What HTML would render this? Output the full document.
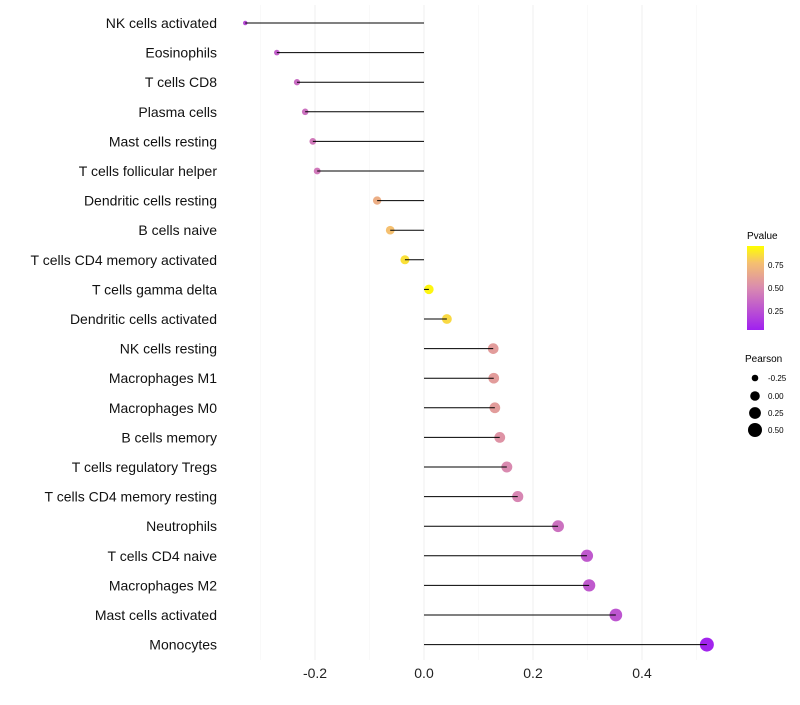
<!DOCTYPE html>
<html><head><meta charset="utf-8"><style>
body{margin:0;background:#fff;font-family:"Liberation Sans",sans-serif}
svg text{font-family:"Liberation Sans",sans-serif}
</style></head><body>
<svg id="c" width="800" height="700" xmlns="http://www.w3.org/2000/svg">
<defs><linearGradient id="pg" x1="0" y1="1" x2="0" y2="0">
<stop offset="0" stop-color="#a020f0"/><stop offset="0.5" stop-color="#d98ab0"/><stop offset="0.8" stop-color="#f5c070"/><stop offset="1" stop-color="#ffff00"/></linearGradient></defs>
<g id="grid"></g><g id="marks"></g><g id="labels"></g>
<g>
<text x="747" y="239" font-size="10">Pvalue</text>
<rect x="747" y="246" width="17" height="84" fill="url(#pg)"/>
<text x="768" y="268" font-size="8">0.75</text>
<text x="768" y="291" font-size="8">0.50</text>
<text x="768" y="314" font-size="8">0.25</text>
</g>
<g>
<text x="745" y="362" font-size="10">Pearson</text>
<circle cx="755" cy="378" r="3.3"/><text x="768" y="381" font-size="8">-0.25</text>
<circle cx="755" cy="396" r="4.8"/><text x="768" y="399" font-size="8">0.00</text>
<circle cx="755" cy="413" r="5.9"/><text x="768" y="416" font-size="8">0.25</text>
<circle cx="755" cy="430" r="7"/><text x="768" y="433" font-size="8">0.50</text>
</g>
</svg>
<script>
const categories=["NK cells activated","Eosinophils","T cells CD8","Plasma cells","Mast cells resting","T cells follicular helper","Dendritic cells resting","B cells naive","T cells CD4 memory activated","T cells gamma delta","Dendritic cells activated","NK cells resting","Macrophages M1","Macrophages M0","B cells memory","T cells regulatory  Tregs","T cells CD4 memory resting","Neutrophils","T cells CD4 naive","Macrophages M2","Mast cells activated","Monocytes"];
const pearson=[-0.328,-0.27,-0.233,-0.218,-0.204,-0.196,-0.086,-0.062,-0.035,0.009,0.042,0.127,0.128,0.13,0.139,0.152,0.172,0.246,0.299,0.303,0.352,0.519];
const pvalue=[0.2,0.3,0.36,0.38,0.42,0.42,0.7,0.8,0.9,0.97,0.88,0.6,0.6,0.6,0.55,0.5,0.48,0.38,0.27,0.27,0.25,0.02];
const ticks=[-0.2,0,0.2,0.4];
const tickLabels=["-0.2","0.0","0.2","0.4"];
const minor=[-0.3,-0.1,0.1,0.3,0.5];
const ns="http://www.w3.org/2000/svg";
const x=v=>424+v*545;
const y=i=>23+i*29.6;
const r=v=>Math.sqrt(Math.max(2.25,22+52*v));
function col(p){const st=[[0,[160,32,240]],[0.5,[217,138,176]],[0.8,[245,192,112]],[1,[255,255,0]]];
for(let k=1;k<st.length;k++){if(p<=st[k][0]){const a=st[k-1],b=st[k],t=(p-a[0])/(b[0]-a[0]);return "rgb("+a[1].map((c,j)=>Math.round(c+(b[1][j]-c)*t)).join(",")+")";}}return "rgb(255,255,0)";}
function mk(t,a,p){const e=document.createElementNS(ns,t);for(const k in a)e.setAttribute(k,a[k]);document.getElementById(p).appendChild(e);return e;}
minor.forEach(v=>{const l=mk("line",{x1:x(v),x2:x(v),y1:5,y2:660,stroke:"#f5f5f5","stroke-width":0.6},"grid");

});
ticks.forEach((v,i)=>{const l=mk("line",{x1:x(v),x2:x(v),y1:5,y2:660,stroke:"#f0f0f0","stroke-width":1.1},"grid");


const t=mk("text",{x:x(v),y:678,"font-size":14,"text-anchor":"middle",fill:"#222"},"labels");t.textContent=tickLabels[i];

});
categories.forEach((c,i)=>{
const t=mk("text",{x:217,y:y(i)+5,"font-size":14,"text-anchor":"end",fill:"#111"},"labels");t.textContent=c;


const d=mk("circle",{cx:x(pearson[i]),cy:y(i),r:r(pearson[i]),fill:col(pvalue[i])},"marks");


const l=mk("line",{x1:x(0),x2:x(pearson[i]),y1:y(i),y2:y(i),stroke:"#000","stroke-width":1},"marks");


});
</script>
</body></html>
